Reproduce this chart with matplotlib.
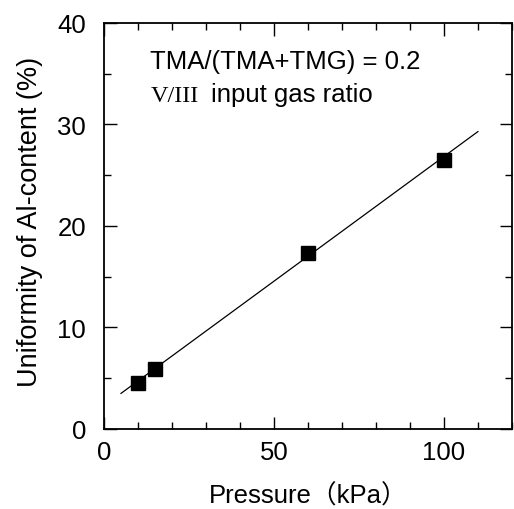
import matplotlib
matplotlib.use('Agg')
import matplotlib.pyplot as plt
from matplotlib.ticker import MultipleLocator

# Data
pressure = [10, 15, 60, 100]
uniformity = [4.5, 5.9, 17.3, 26.5]
fit_x = [5, 110]
fit_y = [3.5, 29.3]

plt.rcParams['font.family'] = ['Liberation Sans', 'Noto Sans CJK JP']

fig = plt.figure(figsize=(5.14, 5.10), dpi=100)
ax = fig.add_axes([0.2023, 0.157, 0.7937, 0.796])

ax.plot(fit_x, fit_y, color='black', linewidth=0.9)
ax.plot(pressure, uniformity, 's', color='black', markersize=10)

ax.set_xlim(0, 120)
ax.set_ylim(0, 40)
ax.xaxis.set_major_locator(MultipleLocator(50))
ax.xaxis.set_minor_locator(MultipleLocator(10))
ax.yaxis.set_major_locator(MultipleLocator(10))
ax.yaxis.set_minor_locator(MultipleLocator(5))

ax.tick_params(which='both', direction='in', top=True, right=True, width=1)
ax.tick_params(which='major', length=9, labelsize=18.5)
ax.tick_params(axis='x', which='major', pad=8)
ax.tick_params(axis='y', which='major', pad=13)
ax.tick_params(which='minor', length=5)
for s in ax.spines.values():
    s.set_linewidth(1.3)

ax.set_xlabel('Pressure（kPa）', fontsize=18.5, labelpad=14)
ax.set_ylabel('Uniformity of Al-content (%)', fontsize=19.5)
ax.yaxis.set_label_coords(-0.15, 0.512)

ax.text(0.112, 0.889, 'TMA/(TMA+TMG) = 0.2', transform=ax.transAxes,
        fontsize=18.5)
ax.text(0.115, 0.808, 'V/III', transform=ax.transAxes, fontsize=17.5,
        family='Liberation Serif')
ax.text(0.263, 0.808, 'input gas ratio', transform=ax.transAxes,
        fontsize=18.5)

fig.savefig('out.png', dpi=100)
